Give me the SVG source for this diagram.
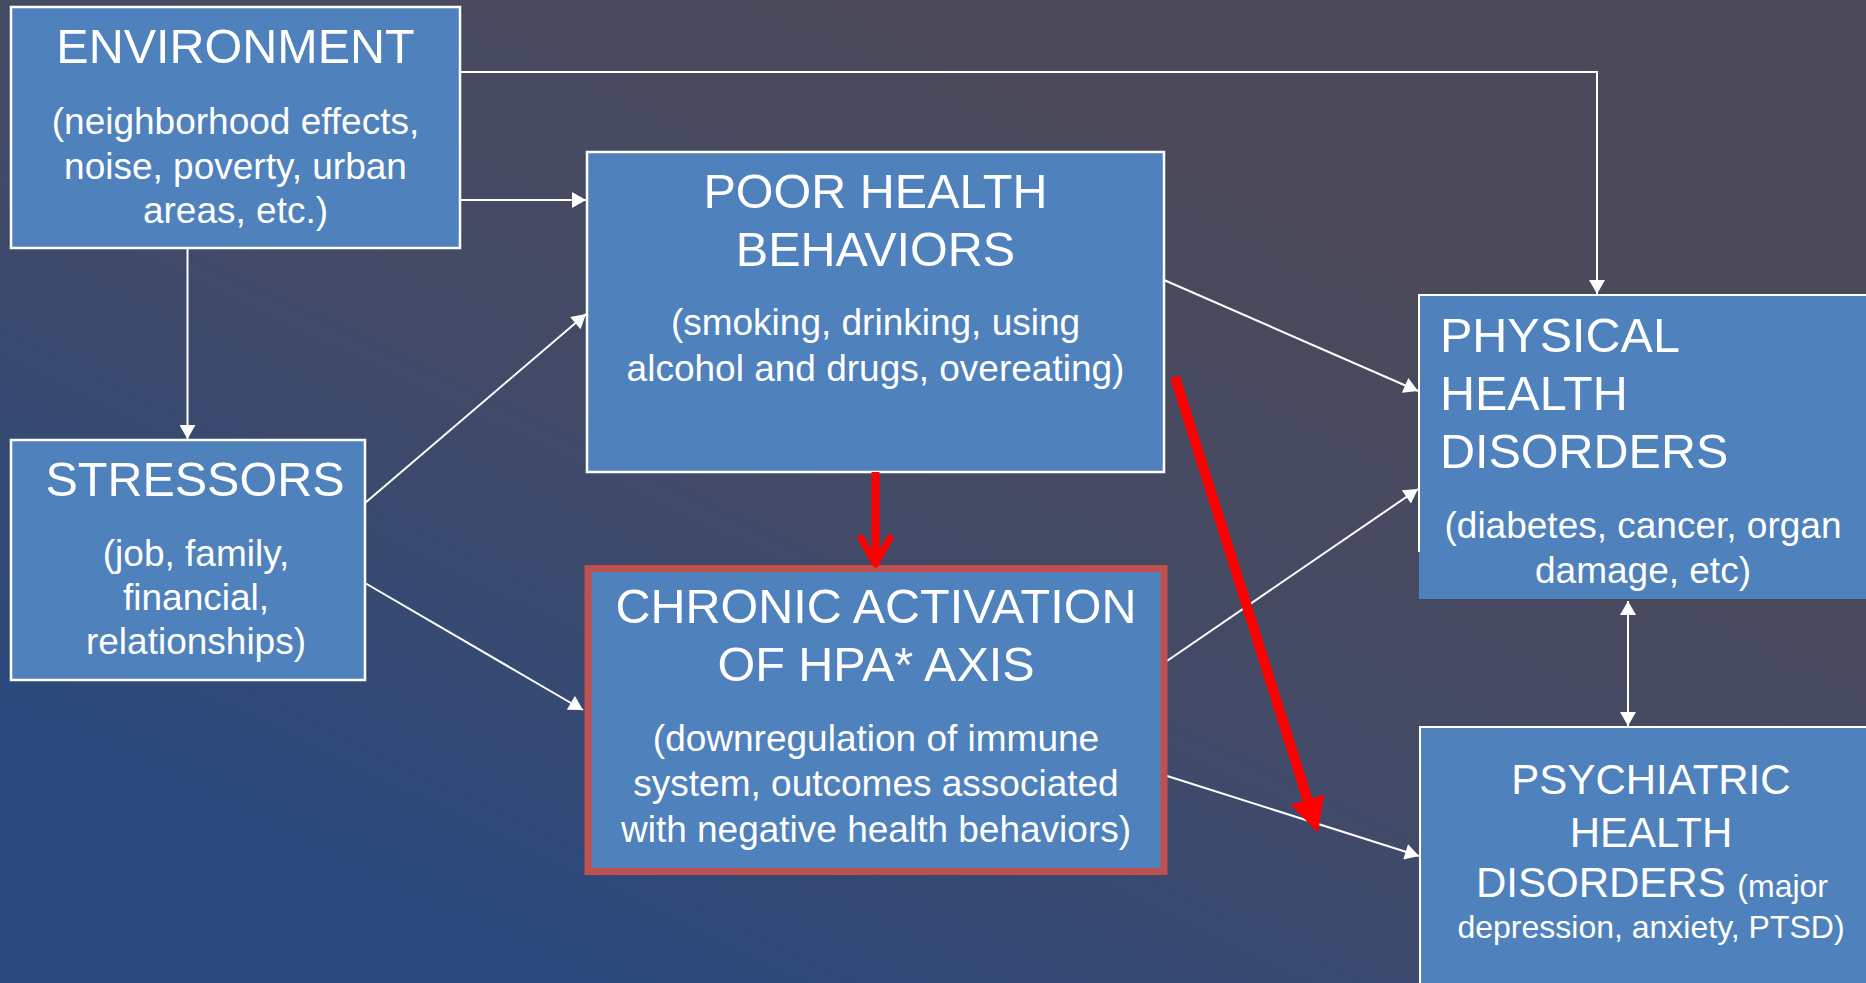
<svg xmlns="http://www.w3.org/2000/svg" width="1866" height="983" viewBox="0 0 1866 983">
<style>
.box{fill:#4f81bd;stroke:#ffffff;stroke-width:2.5}
.t{font-family:"Liberation Sans",Arial,sans-serif;fill:#ffffff;text-anchor:middle}
.h{font-size:48.5px}
.s{font-size:37px}
.c{fill:none;stroke:#ffffff;stroke-width:2}
</style>
<defs>
<linearGradient id="bg" gradientUnits="userSpaceOnUse" x1="1050" y1="60" x2="600" y2="1000">
<stop offset="0" stop-color="#4b4959"/>
<stop offset="0.45" stop-color="#444a65"/>
<stop offset="1" stop-color="#2a497d"/>
</linearGradient>
<marker id="ah" markerUnits="userSpaceOnUse" markerWidth="16" markerHeight="16" viewBox="0 0 14 16" refX="14" refY="8" orient="auto-start-reverse">
<path d="M0,0 L14,8 L0,16 Z" fill="#ffffff"/>
</marker>
</defs>
<rect width="1866" height="983" fill="url(#bg)"/>

<g id="connectors">
<polyline class="c" points="460,72 1597,72 1597,294" marker-end="url(#ah)"/>
<line class="c" x1="460" y1="200" x2="586" y2="200" marker-end="url(#ah)"/>
<line class="c" x1="187.5" y1="248" x2="187.5" y2="439" marker-end="url(#ah)"/>
<line class="c" x1="365" y1="503" x2="586" y2="314" marker-end="url(#ah)"/>
<line class="c" x1="365" y1="583" x2="583" y2="710" marker-end="url(#ah)"/>
<line class="c" x1="1164" y1="280" x2="1418" y2="391" marker-end="url(#ah)"/>
<line class="c" x1="1164" y1="663" x2="1418" y2="489" marker-end="url(#ah)"/>
<line class="c" x1="1164" y1="775" x2="1419" y2="856" marker-end="url(#ah)"/>
<line class="c" x1="1628" y1="601" x2="1628" y2="726" marker-start="url(#ah)" marker-end="url(#ah)"/>
</g>

<g id="env">
<rect class="box" x="11" y="7" width="449" height="241"/>
<text class="t h" x="235.5" y="63">ENVIRONMENT</text>
<text class="t s" x="235.5" y="134">(neighborhood effects,</text>
<text class="t s" x="235.5" y="179">noise, poverty, urban</text>
<text class="t s" x="235.5" y="223">areas, etc.)</text>
</g>

<g id="stressors">
<rect class="box" x="11" y="440" width="354" height="240"/>
<text class="t h" x="195" y="496">STRESSORS</text>
<text class="t s" x="196" y="566">(job, family,</text>
<text class="t s" x="196" y="610">financial,</text>
<text class="t s" x="196" y="654">relationships)</text>
</g>

<g id="poor">
<rect class="box" x="587" y="152" width="577" height="320"/>
<text class="t h" x="875.5" y="208">POOR HEALTH</text>
<text class="t h" x="875.5" y="266">BEHAVIORS</text>
<text class="t s" x="875.5" y="335">(smoking, drinking, using</text>
<text class="t s" x="875.5" y="381">alcohol and drugs, overeating)</text>
</g>

<g id="chronic">
<rect x="588" y="568.5" width="576" height="303" fill="#4f81bd" stroke="#c0504d" stroke-width="7"/>
<text class="t h" x="876" y="623">CHRONIC ACTIVATION</text>
<text class="t h" x="876" y="681">OF HPA* AXIS</text>
<text class="t s" x="876" y="751">(downregulation of immune</text>
<text class="t s" x="876" y="796">system, outcomes associated</text>
<text class="t s" x="876" y="842">with negative health behaviors)</text>
</g>

<g id="physical">
<rect x="1419" y="295" width="460" height="304" fill="#4f81bd"/>
<path d="M1419,552 V295 H1880" fill="none" stroke="#ffffff" stroke-width="2"/>
<text class="t h" x="1440" y="352" style="text-anchor:start">PHYSICAL</text>
<text class="t h" x="1440" y="410" style="text-anchor:start">HEALTH</text>
<text class="t h" x="1440" y="468" style="text-anchor:start">DISORDERS</text>
<text class="t s" x="1643" y="538">(diabetes, cancer, organ</text>
<text class="t s" x="1643" y="583">damage, etc)</text>
</g>

<g id="psychiatric">
<rect x="1420" y="727" width="460" height="270" fill="#4f81bd"/>
<path d="M1420,995 V727 H1880" fill="none" stroke="#ffffff" stroke-width="2"/>
<text class="t" x="1651" y="794" font-size="42">PSYCHIATRIC</text>
<text class="t" x="1651" y="847" font-size="42">HEALTH</text>
<text class="t" x="1652" y="897" font-size="42">DISORDERS <tspan font-size="32">(major</tspan></text>
<text class="t" x="1651" y="938" font-size="32">depression, anxiety, PTSD)</text>
</g>

<g id="red-arrows">
<line x1="875.5" y1="472" x2="875.5" y2="562" stroke="#ff0000" stroke-width="8"/>
<path d="M861,538 L875.5,564 L890,538" fill="none" stroke="#ff0000" stroke-width="7" stroke-linecap="round" stroke-linejoin="round"/>
<line x1="1175" y1="377" x2="1307.5" y2="799.6" stroke="#ff0000" stroke-width="10"/>
<polygon points="1318,833 1324.2,794.4 1290.8,804.8" fill="#ff0000"/>
</g>
</svg>
